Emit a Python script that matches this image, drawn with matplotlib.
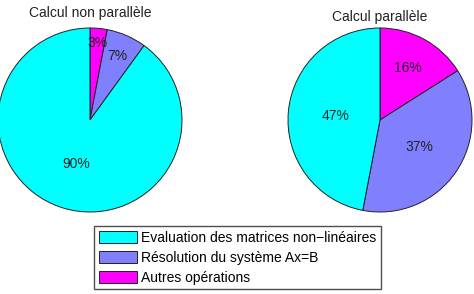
import matplotlib.pyplot as plt
import numpy as np
from matplotlib.patches import Patch

plt.rcParams["font.family"] = ["Liberation Sans", "DejaVu Sans"]

# clockwise order from 12 o'clock
categories = ["Autres opérations", "Résolution du système Ax=B",
              "Evaluation des matrices non\u2212linéaires"]
colours = ["#ff00ff", "#8080ff", "#00ffff"]
serial_pct = [3, 7, 90]
parallel_pct = [16, 37, 47]
# how far from the centre each percentage label sits (fraction of radius)
serial_label_r = [0.84, 0.76, 0.50]
parallel_label_r = [0.64, 0.52, 0.49]

W, H = 474, 294
fig = plt.figure(figsize=(W / 100, H / 100), dpi=100)


def draw_pie(cx, cy, r, values, label_r, title, title_y):
    ax = fig.add_axes([(cx - r) / W, 1 - (cy + r) / H, 2 * r / W, 2 * r / H])
    wedges, _, autotexts = ax.pie(
        values, colors=colours, startangle=90, counterclock=False,
        autopct=lambda p: f"{p:.0f}%", pctdistance=0.5,
        wedgeprops=dict(edgecolor="#222222", linewidth=0.7),
        textprops=dict(fontsize=10, color="#222222"))
    for w, t, d in zip(wedges, autotexts, label_r):
        ang = np.deg2rad((w.theta1 + w.theta2) / 2)
        t.set_position((d * np.cos(ang), d * np.sin(ang)))
    ax.set_xlim(-1, 1)
    ax.set_ylim(-1, 1)
    ax.set_aspect("equal")
    fig.text(cx / W, 1 - title_y / H, title, ha="center", va="center",
             fontsize=10, color="#222222")
    return ax


draw_pie(90, 120, 92, serial_pct, serial_label_r, "Calcul non parallèle", 13)
draw_pie(380, 120, 92, parallel_pct, parallel_label_r, "Calcul parallèle", 17)

handles = [Patch(facecolor=c, edgecolor="#222222", linewidth=0.7) for c in colours[::-1]]
fig.legend(handles, categories[::-1], loc="upper left",
           bbox_to_anchor=(94 / W, 1 - 226 / H), fontsize=10,
           frameon=True, fancybox=False, edgecolor="#222222",
           handlelength=2.75, handleheight=1.0, handletextpad=0.3,
           labelspacing=0.42, borderpad=0.35, borderaxespad=0)

fig.savefig("out.png", dpi=100)
